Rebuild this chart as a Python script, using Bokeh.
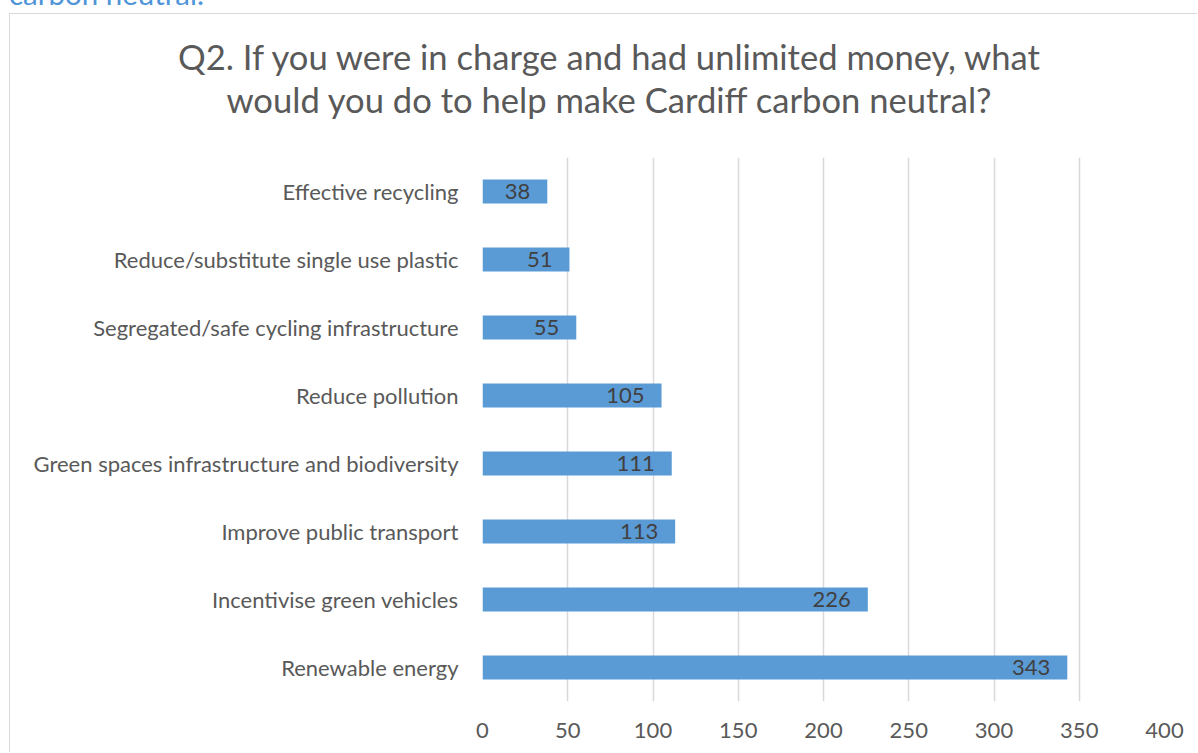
from bokeh.plotting import figure
from bokeh.models import Range1d, FactorRange, ColumnDataSource, FixedTicker, Div
from bokeh.layouts import column
from bokeh.embed import file_html
from bokeh.resources import INLINE
from bokeh.core.properties import value

# Data (top to bottom as shown)
categories = [
    "Effective recycling",
    "Reduce/substitute single use plastic",
    "Segregated/safe cycling infrastructure",
    "Reduce pollution",
    "Green spaces infrastructure and biodiversity",
    "Improve public transport",
    "Incentivise green vehicles",
    "Renewable energy",
]
counts = [38, 51, 55, 105, 111, 113, 226, 343]
x_ticks = [0, 50, 100, 150, 200, 250, 300, 350, 400]
title_lines = [
    "Q2. If you were in charge and had unlimited money, what",
    "would you do to help make Cardiff carbon neutral?",
]
page_heading_tail = "carbon neutral."

FONT = "Lato"
BAR = "#5B9BD5"
GRID = "#D9D9D9"
TXT = "#595959"

W = 1187
TITLE_H = 143
MAIN_H = 595

# ---- title strip ----
title_html = (
    '<div style="position:relative;width:1198px;text-align:center;white-space:nowrap;'
    f'font-family:{FONT};font-size:34.6px;line-height:43px;color:{TXT};'
    'padding-top:21px;">'
    '<div style="position:absolute;left:-1px;top:-35px;text-align:left;'
    f'font-family:{FONT};font-size:29.5px;line-height:29.5px;color:#4F95D8;">'
    + page_heading_tail + "</div>"
    + "<br>".join(title_lines) + "</div>"
)
t = Div(text=title_html, width=W, height=TITLE_H)
t.margin = (0, 0, 0, 0)

# ---- bar chart ----
src = ColumnDataSource(dict(cat=categories, n=counts, lbl=[str(v) for v in counts]))

p = figure(
    width=W, height=MAIN_H,
    x_range=Range1d(0, 400), y_range=FactorRange(*reversed(categories)),
    output_backend="svg", toolbar_location=None, title=None,
    min_border_left=472, min_border_right=33, min_border_top=0, min_border_bottom=51,
)
p.margin = (0, 0, 0, 0)
p.outline_line_color = None
p.background_fill_color = "white"
p.border_fill_color = "white"

p.hbar(y="cat", right="n", left=0, height=0.353, source=src, color=BAR, line_color=None)
p.text(x="n", y="cat", text="lbl", source=src, x_offset=-17, text_align="right",
       text_baseline="middle", text_font=value(FONT), text_font_size="22px",
       text_color="#404040")

p.xaxis.ticker = FixedTicker(ticks=x_ticks)
p.xgrid.ticker = FixedTicker(ticks=x_ticks)
p.xgrid.grid_line_color = GRID
p.xgrid.grid_line_width = 1.5
p.ygrid.grid_line_color = None

for ax in (p.xaxis, p.yaxis):
    ax.axis_line_color = None
    ax.major_tick_line_color = None
    ax.minor_tick_line_color = None
    ax.major_tick_out = 0
    ax.major_tick_in = 0
    ax.major_label_text_font = FONT
    ax.major_label_text_font_size = "22px"
    ax.major_label_text_color = TXT
p.xaxis.major_label_standoff = 21
p.yaxis.major_label_standoff = 24

layout = column(t, p, spacing=0)
layout.margin = (13, 0, 0, 9)
layout.styles = {"border-left": "1.5px solid #D9D9D9", "border-top": "1.5px solid #D9D9D9",
                 "background": "white"}

open("out.html", "w").write(file_html(layout, INLINE))
